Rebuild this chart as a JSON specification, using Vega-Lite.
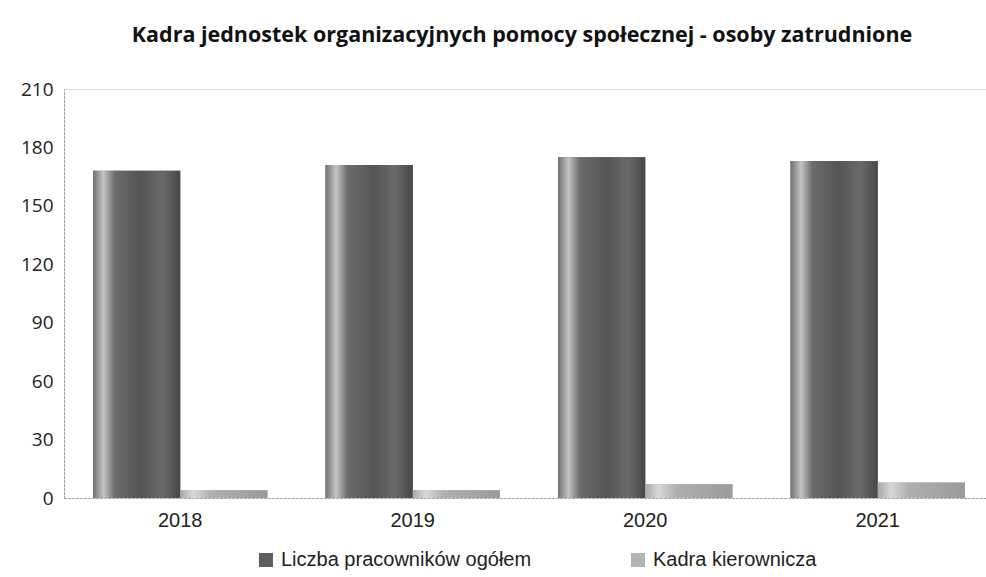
{
  "$schema": "https://vega.github.io/schema/vega-lite/v6.json",
  "autosize": {"type": "none"},
  "width": 930,
  "height": 409,
  "padding": {"left": 64, "top": 89, "right": 0, "bottom": 79},
  "background": "white",
  "title": {
    "text": "Kadra jednostek organizacyjnych pomocy społecznej - osoby zatrudnione",
    "font": "Open Sans",
    "fontSize": 21.5,
    "fontWeight": "bold",
    "color": "#111111",
    "anchor": "middle",
    "dx": -7,
    "offset": 34
  },
  "data": {
    "values": [
      {"rok": "2018", "seria": "Liczba pracowników ogółem", "wartosc": 168},
      {"rok": "2018", "seria": "Kadra kierownicza", "wartosc": 4},
      {"rok": "2019", "seria": "Liczba pracowników ogółem", "wartosc": 171},
      {"rok": "2019", "seria": "Kadra kierownicza", "wartosc": 4},
      {"rok": "2020", "seria": "Liczba pracowników ogółem", "wartosc": 175},
      {"rok": "2020", "seria": "Kadra kierownicza", "wartosc": 7},
      {"rok": "2021", "seria": "Liczba pracowników ogółem", "wartosc": 173},
      {"rok": "2021", "seria": "Kadra kierownicza", "wartosc": 8}
    ]
  },
  "encoding": {
    "x": {
      "field": "rok", "type": "nominal",
      "scale": {"paddingInner": 0.25, "paddingOuter": 0.125},
      "axis": {
        "title": null, "labelAngle": 0, "ticks": false,
        "labelFont": "Liberation Sans", "labelFontSize": 20, "labelColor": "#222222",
        "labelPadding": 12,
        "domainColor": "#999999", "domainDash": [2, 2], "domainWidth": 1
      }
    },
    "xOffset": {
      "field": "seria", "type": "nominal",
      "scale": {"domain": ["Liczba pracowników ogółem", "Kadra kierownicza"], "paddingInner": 0, "paddingOuter": 0}
    },
    "y": {
      "field": "wartosc", "type": "quantitative",
      "scale": {"domain": [0, 210], "nice": false},
      "axis": {
        "title": null, "values": [0, 30, 60, 90, 120, 150, 180, 210],
        "grid": false, "ticks": false,
        "labelFont": "Open Sans", "labelFontSize": 19, "labelColor": "#222222",
        "labelPadding": 11,
        "domainColor": "#888888", "domainDash": [2, 2], "domainWidth": 1
      }
    }
  },
  "layer": [
    {
      "mark": {"type": "bar"},
      "encoding": {
        "color": {
          "field": "seria", "type": "nominal",
          "scale": {"domain": ["Liczba pracowników ogółem", "Kadra kierownicza"], "range": ["#5e5e5e", "#b4b4b4"]},
          "legend": {
            "title": null, "orient": "none", "direction": "horizontal",
            "legendX": 192, "legendY": 461,
            "symbolType": "square", "symbolSize": 196, "symbolStrokeWidth": 0,
            "labelFont": "Liberation Sans", "labelFontSize": 20, "labelColor": "#222222",
            "labelLimit": 400,
            "labelOffset": 5, "columnPadding": 96
          }
        }
      }
    },
    {
      "transform": [{"filter": "datum.seria === 'Liczba pracowników ogółem'"}],
      "mark": {
        "type": "bar",
        "color": {
          "gradient": "linear", "x1": 0, "x2": 1, "y1": 0, "y2": 0,
          "stops": [
            {"offset": 0, "color": "#707070"},
            {"offset": 0.12, "color": "#c4c4c4"},
            {"offset": 0.25, "color": "#6c6c6c"},
            {"offset": 0.55, "color": "#555555"},
            {"offset": 0.8, "color": "#6a6a6a"},
            {"offset": 1, "color": "#474747"}
          ]
        }
      }
    },
    {
      "transform": [{"filter": "datum.seria === 'Kadra kierownicza'"}],
      "mark": {
        "type": "bar",
        "color": {
          "gradient": "linear", "x1": 0, "x2": 1, "y1": 0, "y2": 0,
          "stops": [
            {"offset": 0, "color": "#a8a8a8"},
            {"offset": 0.15, "color": "#d8d8d8"},
            {"offset": 0.35, "color": "#b0b0b0"},
            {"offset": 1, "color": "#9a9a9a"}
          ]
        }
      }
    }
  ]
}
